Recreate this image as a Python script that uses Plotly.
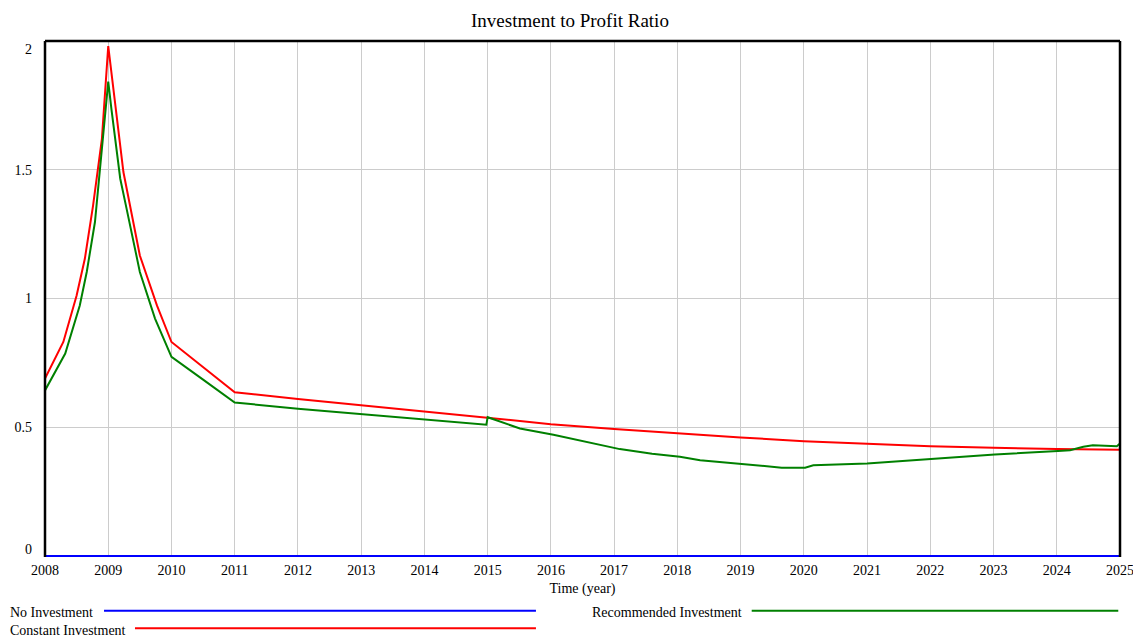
import plotly.graph_objects as go

# Investment to Profit Ratio
years_const = [2008.0, 2008.29, 2008.50, 2008.63, 2008.76, 2008.90, 2009.0,
               2009.11, 2009.24, 2009.50, 2009.77, 2010.0, 2010.5, 2011.0,
               2012.0, 2013.0, 2014.0, 2015.0, 2016.0, 2017.0, 2018.0,
               2019.0, 2020.0, 2021.0, 2022.0, 2023.0, 2024.0, 2025.0]
constant_inv = [0.689, 0.831, 1.012, 1.154, 1.361, 1.62, 1.98,
                1.749, 1.491, 1.167, 0.973, 0.831, 0.735, 0.636,
                0.610, 0.585, 0.560, 0.536, 0.512, 0.493, 0.476,
                0.460, 0.446, 0.436, 0.426, 0.420, 0.415, 0.413]

years_rec = [2008.0, 2008.32, 2008.55, 2008.66, 2008.79, 2008.90, 2009.0,
             2009.05, 2009.19, 2009.29, 2009.50, 2009.74, 2010.0, 2010.5,
             2011.0, 2012.0, 2013.0, 2014.0, 2014.98, 2015.0, 2015.51,
             2016.04, 2016.57, 2017.09, 2017.6, 2018.04, 2018.36, 2018.67,
             2018.99, 2019.65, 2020.02, 2020.15, 2021.0, 2022.02, 2023.02,
             2024.02, 2024.21, 2024.42, 2024.57, 2024.95, 2025.0]
recommended_inv = [0.643, 0.786, 0.973, 1.103, 1.297, 1.569, 1.842,
                   1.736, 1.465, 1.349, 1.103, 0.922, 0.773, 0.685,
                   0.596, 0.572, 0.551, 0.530, 0.510, 0.539, 0.495,
                   0.471, 0.443, 0.415, 0.397, 0.385, 0.372, 0.365,
                   0.355, 0.343, 0.343, 0.352, 0.359, 0.378, 0.394,
                   0.408, 0.411, 0.424, 0.430, 0.426, 0.437]

years_none = [2008.0, 2025.0]
no_inv = [0.0, 0.0]

year_ticks = list(range(2008, 2026))
ratio_ticks = [0, 0.5, 1, 1.5, 2]
ratio_labels = ['0', '0.5', '1', '1.5', '2']

SERIF = 'Liberation Serif, Times New Roman, serif'
Y_RANGE = [-0.004, 2.0]

fig = go.Figure()

fig.add_trace(go.Scatter(x=years_none, y=no_inv, mode='lines',
                         name='No Investment',
                         line=dict(color='#0000FF', width=2)))
fig.add_trace(go.Scatter(x=years_const, y=constant_inv, mode='lines',
                         name='Constant Investment',
                         line=dict(color='#FF0000', width=2)))
fig.add_trace(go.Scatter(x=years_rec, y=recommended_inv, mode='lines',
                         name='Recommended Investment',
                         line=dict(color='#008000', width=2)))

# invisible helpers so the two overlay axes (end labels) get drawn
for ax in ['y2', 'y3']:
    fig.add_trace(go.Scatter(x=years_none[:1], y=no_inv[:1], yaxis=ax,
                             mode='markers', marker=dict(opacity=0),
                             hoverinfo='skip', showlegend=False))

# the page body has an 8px margin, so the figure is sized/offset for it
fig.update_layout(
    width=1133, height=629,
    paper_bgcolor='white', plot_bgcolor='white',
    margin=dict(l=37, r=21, t=33, b=80),
    showlegend=False,
    font=dict(family=SERIF, size=14, color='black'),
    title=dict(text='Investment to Profit Ratio', x=0.496, xref='container',
               y=0.981, yref='container', xanchor='center', yanchor='middle',
               font=dict(family=SERIF, size=19, color='black')),
)

fig.update_xaxes(range=[2008, 2025], tickvals=year_ticks,
                 ticktext=[str(y) for y in year_ticks], automargin=False,
                 showgrid=True, gridcolor='#CCCCCC', gridwidth=1,
                 zeroline=False, showline=False, ticks='', ticklabelstandoff=3,
                 title=dict(text='Time (year)', standoff=6,
                            font=dict(family=SERIF, size=14)))

# middle labels centred on their gridlines, end labels pulled inside
common_y = dict(range=Y_RANGE, zeroline=False, showline=False, ticks='',
                ticklabelstandoff=12, automargin=False)
fig.update_layout(
    yaxis=dict(tickvals=ratio_ticks[1:4], ticktext=ratio_labels[1:4],
               showgrid=True, gridcolor='#CCCCCC', gridwidth=1, **common_y),
    yaxis2=dict(overlaying='y', anchor='x', side='left',
                tickvals=[ratio_ticks[0]], ticktext=[ratio_labels[0]],
                ticklabelshift=-7, showgrid=False, **common_y),
    yaxis3=dict(overlaying='y', anchor='x', side='left',
                tickvals=[ratio_ticks[4]], ticktext=[ratio_labels[4]],
                ticklabelshift=8, showgrid=False, **common_y),
)

# black frame on left, top and right
for x0, y0, x1, y1 in [(0, 0, 0, 1), (0, 1, 1, 1), (1, 0, 1, 1)]:
    fig.add_shape(type='line', xref='paper', yref='paper',
                  x0=x0, y0=y0, x1=x1, y1=y1,
                  line=dict(color='black', width=2.5))

# legend drawn as text + long lines, like the original tool
legend_items = [
    ('No Investment', '#0000FF', -0.0345, -0.1075, 0.0549, 0.4567, -0.1041),
    ('Constant Investment', '#FF0000', -0.0345, -0.1415, 0.0837, 0.4567, -0.1382),
    ('Recommended Investment', '#008000', 0.5070, -0.1075, 0.6574, 0.9984, -0.1041),
]
for label, color, tx, ty, lx0, lx1, ly in legend_items:
    fig.add_annotation(text=label, xref='paper', yref='paper', x=tx, y=ty,
                       xanchor='left', yanchor='middle', showarrow=False,
                       font=dict(family=SERIF, size=14, color='black'))
    fig.add_shape(type='line', xref='paper', yref='paper',
                  x0=lx0, x1=lx1, y0=ly, y1=ly,
                  line=dict(color=color, width=2))

fig.write_html('out.html')
